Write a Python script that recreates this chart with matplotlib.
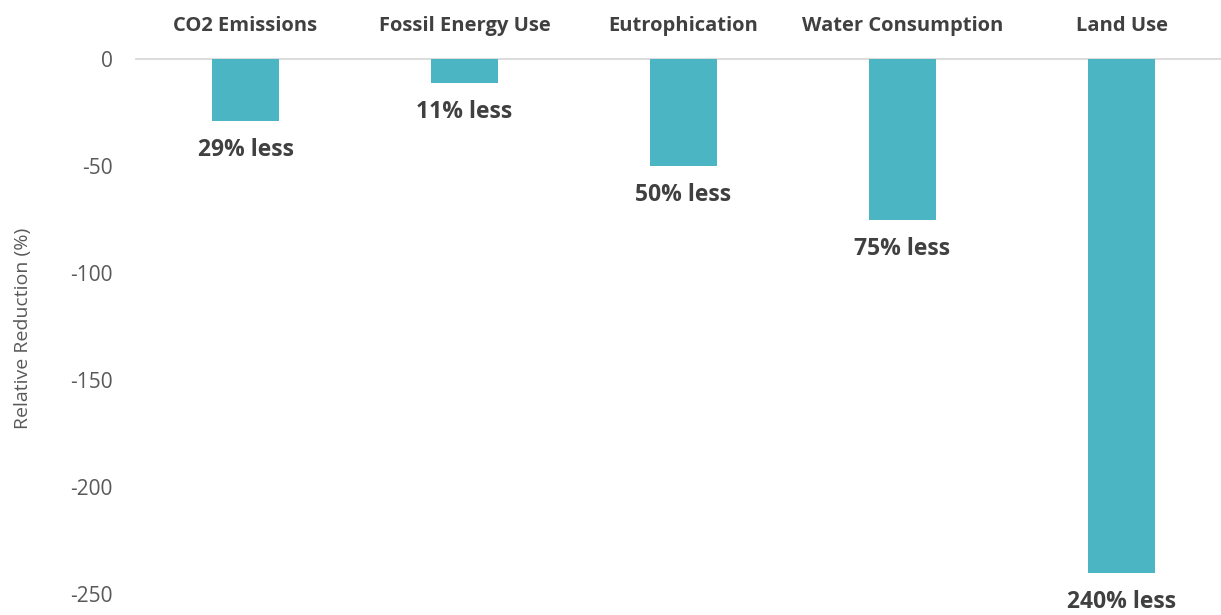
import matplotlib.pyplot as plt

plt.rcParams['font.family'] = ['Open Sans', 'DejaVu Sans']

# data
categories = ['CO2 Emissions', 'Fossil Energy Use', 'Eutrophication', 'Water Consumption', 'Land Use']
values = [-29, -11, -50, -75, -240]
bar_labels = ['29% less', '11% less', '50% less', '75% less', '240% less']
yticks = [0, -50, -100, -150, -200, -250]

fig = plt.figure(figsize=(12.21, 6.15), dpi=100)
ax = fig.add_axes([136 / 1221, 1 - 594 / 615, 1095 / 1221, 535 / 615])

x = range(len(categories))
ax.bar(x, values, width=0.31, color='#4BB5C4', zorder=2)
ax.axhline(0, color='#D9D9D9', lw=1.3, zorder=1, clip_on=False)

ax.set_xlim(-0.5, 4.5)
ax.set_ylim(-250, 0)
ax.set_yticks(yticks)
ax.set_yticklabels([str(t) for t in yticks], fontsize=15, color='#595959')
ax.tick_params(axis='y', length=0, pad=17)
ax.set_xticks([])
for s in ax.spines.values():
    s.set_visible(False)

for i, (v, lab, cat) in enumerate(zip(values, bar_labels, categories)):
    ax.annotate(lab, (i, v), xytext=(0, -21), textcoords='offset points',
                ha='center', va='center', fontsize=16.5, fontweight='bold',
                color='#404040', annotation_clip=False)
    ax.annotate(cat, (i, 0), xytext=(0, 23.5), textcoords='offset points',
                ha='center', va='center', fontsize=14.5, fontweight='bold',
                color='#404040', annotation_clip=False)

fig.text(23 / 1221, 1 - 328 / 615, 'Relative Reduction (%)', rotation=90,
         ha='center', va='center', fontsize=14, color='#595959')

fig.savefig('out.png', dpi=100)
